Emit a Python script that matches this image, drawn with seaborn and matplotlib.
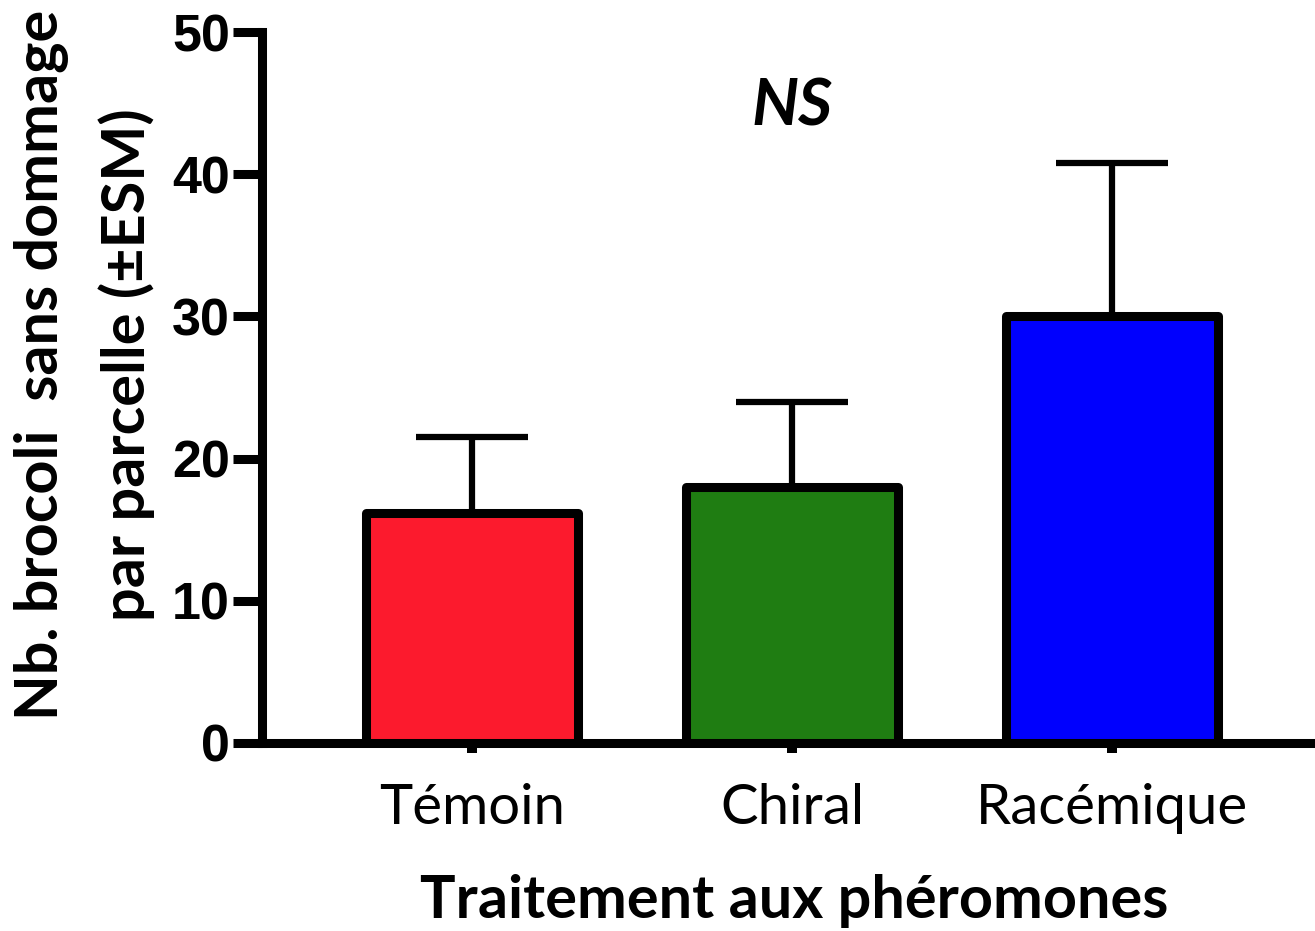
import matplotlib
matplotlib.use("Agg")
import matplotlib.pyplot as plt
import seaborn as sns
import pandas as pd

# ---------------- data ----------------
categories = ["Témoin", "Chiral", "Racémique"]
means = [16.2, 18.0, 30.0]
sem_upper = [5.3, 6.0, 10.8]
bar_colors = ["#FC1A2D", "#1F7D12", "#0000FE"]
y_ticks = [0, 10, 20, 30, 40, 50]
ylabel_lines = ["Nb. brocoli  sans dommage", "par parcelle (±ESM)"]
xlabel_text = "Traitement aux phéromones"
annotation_text = "NS"

# ---------------- figure ----------------
sns.set_style("ticks")
plt.rcParams["text.color"] = "black"
plt.rcParams["axes.labelcolor"] = "black"
W, H = 1315, 931
fig = plt.figure(figsize=(W / 100, H / 100), dpi=100)
ax = fig.add_axes([262 / W, 1 - 743 / H, 1050 / W, 711 / H])

HUM = ["Lato", "Open Sans", "DejaVu Sans"]
ARIAL = ["Liberation Sans", "DejaVu Sans"]

renderer = fig.canvas.get_renderer()


def fit_size(text, family, weight, style, target_px, vertical=False):
    size = 40.0
    for _ in range(3):
        t = fig.text(0, 0, text, fontsize=size, family=family, weight=weight,
                     style=style, rotation=90 if vertical else 0)
        bb = t.get_window_extent(renderer)
        t.remove()
        length = bb.height if vertical else bb.width
        size = size * target_px / length
    return size


df = pd.DataFrame({"Traitement": categories, "Valeur": means})
sns.barplot(data=df, x="Traitement", y="Valeur", hue="Traitement",
            palette=bar_colors, legend=False, width=0.66, saturation=1,
            edgecolor="black", linewidth=6.5, errorbar=None, ax=ax, zorder=3)
for p in ax.patches:
    p.set_joinstyle("round")

ax.errorbar(list(range(len(categories))), means,
            yerr=[[0] * len(categories), sem_upper], fmt="none",
            ecolor="black", elinewidth=4.5, capsize=40, capthick=4.5, zorder=2)

ax.set_xlim(-0.656, 2.625)
ax.set_ylim(0, 50)
ax.set_yticks(y_ticks)
ax.set_xlabel("")
ax.set_ylabel("")
for s in ["top", "right"]:
    ax.spines[s].set_visible(False)
for s in ["left", "bottom"]:
    ax.spines[s].set_linewidth(6.5)
    ax.spines[s].set_color("black")

# y ticks
ytick_size = fit_size("50", ARIAL, "bold", "normal", 58)
ax.tick_params(axis="y", direction="out", length=21, width=6.5, pad=2,
               labelsize=ytick_size, colors="black")
for lab in ax.get_yticklabels():
    lab.set_family(ARIAL)
    lab.set_fontweight("bold")
    lab.set_color("black")

# x ticks
xtick_size = fit_size("Témoin", HUM, "normal", "normal", 186)
ax.tick_params(axis="x", direction="out", length=7.2, width=7.2, pad=51,
               labelsize=xtick_size, colors="black")
for lab in ax.get_xticklabels():
    lab.set_family(HUM)
    lab.set_va("baseline")
    lab.set_color("black")

# x label
xl_size = fit_size(xlabel_text, HUM, "bold", "normal", 748)
fig.text(794 / W, 1 - 918 / H, xlabel_text, ha="center", va="baseline",
         fontsize=xl_size, family=HUM, fontweight="bold", color="black")

# y label (two centred lines)
yl_size = fit_size(ylabel_lines[0], HUM, "bold", "normal", 710, vertical=True)
for line, xb in zip(ylabel_lines, [58, 145]):
    fig.text(xb / W, 1 - 365 / H, line, rotation=90, rotation_mode="anchor",
             ha="center", va="baseline", fontsize=yl_size, family=HUM,
             fontweight="bold", color="black")

# NS annotation
ns_size = fit_size(annotation_text, HUM, "bold", "italic", 81)
ax.text(1, 43.4, annotation_text, ha="center", va="baseline", fontsize=ns_size,
        family=HUM, fontweight="bold", style="italic", color="black")

fig.savefig("out.png", dpi=100, facecolor="white")
